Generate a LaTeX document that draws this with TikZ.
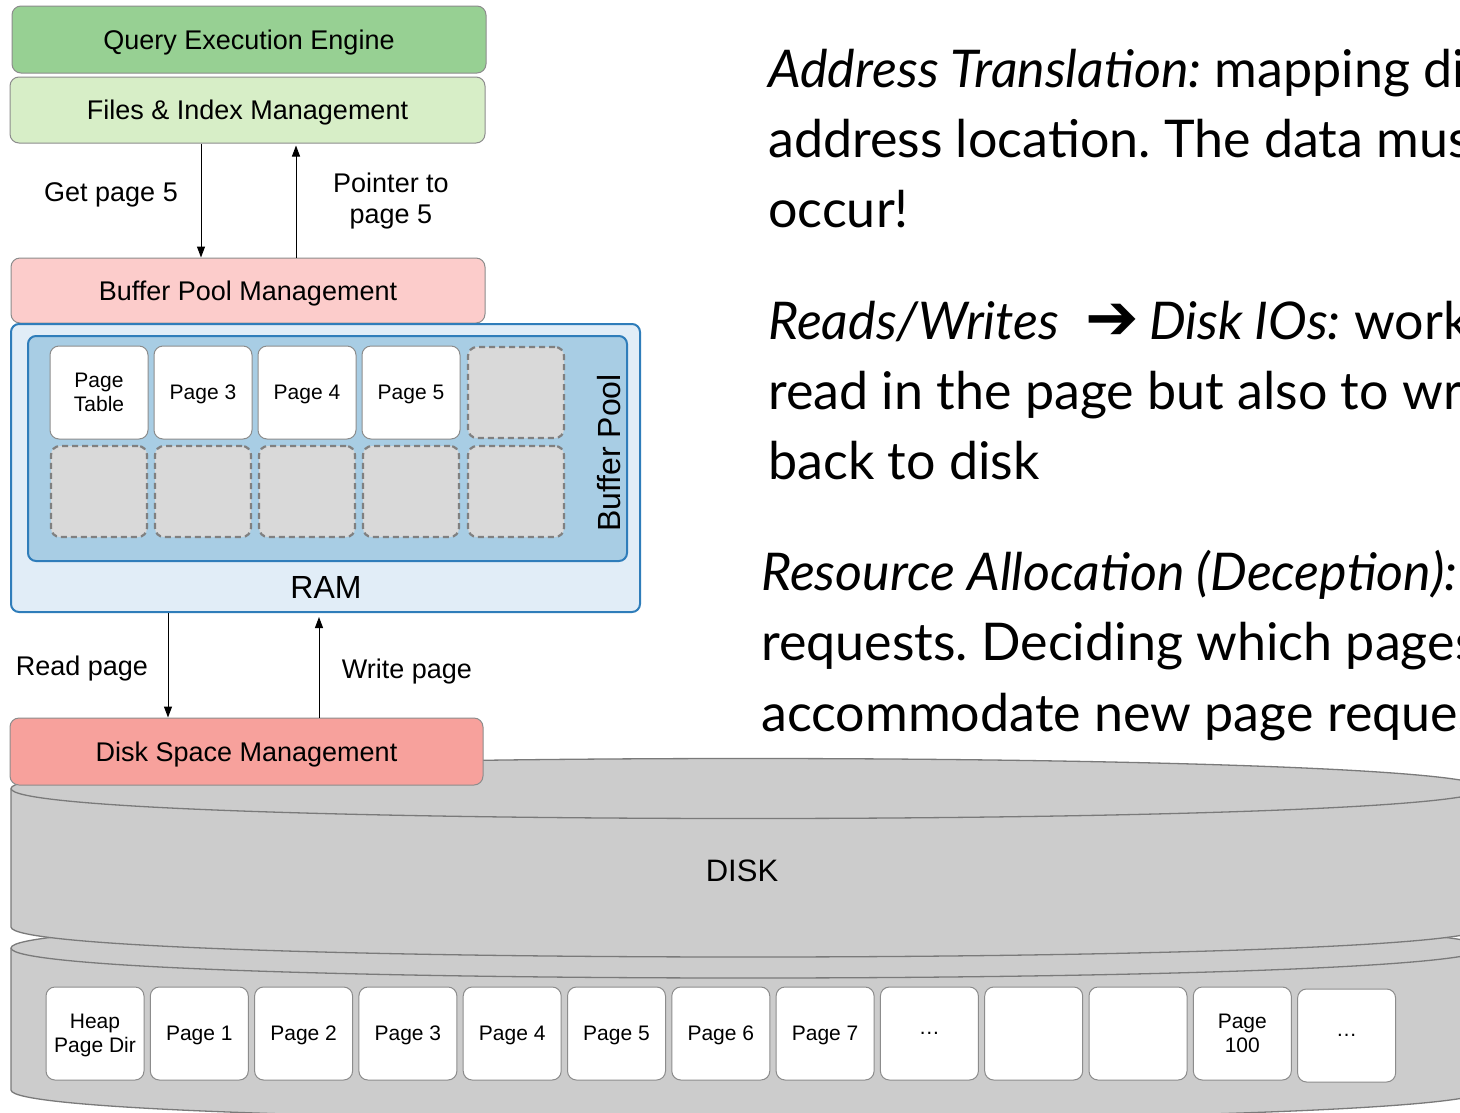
\documentclass[tikz,border=0pt]{standalone}
\usepackage{fontspec}
\setmainfont{Liberation Sans}
\newfontfamily\gill{Lato}
\newfontfamily\symfont{DejaVu Sans}
\usetikzlibrary{arrows.meta}

\definecolor{qeFill}{HTML}{97D093}
\definecolor{fiFill}{HTML}{D7EEC7}
\definecolor{bpFill}{HTML}{FCCCCB}
\definecolor{dsFill}{HTML}{F7A19C}
\definecolor{ramFill}{HTML}{E1EDF7}
\definecolor{ramLine}{HTML}{2F7DBA}
\definecolor{poolFill}{HTML}{A8CDE4}
\definecolor{slotFill}{HTML}{D9D9D9}
\definecolor{slotLine}{HTML}{808080}
\definecolor{boxLine}{HTML}{8C8C8C}
\definecolor{diskFill}{HTML}{CCCCCC}
\definecolor{diskLine}{HTML}{7A7A7A}

\newcommand\fsz[2]{\fontsize{#1}{#2}\selectfont}
\frenchspacing

\begin{document}
\begin{tikzpicture}[x=1pt, y=-1pt,
  layer/.style={draw=boxLine, line width=1pt, rounded corners=9pt, inner sep=0pt,
    text depth=0pt, font=\fsz{27}{32}},
  pg/.style={draw=boxLine, fill=white, line width=1pt, rounded corners=9pt,
    minimum width=98pt, minimum height=93pt, inner sep=0pt, align=center,
    text depth=0pt, font=\fsz{21}{24.5}},
  slot/.style={draw=slotLine, fill=slotFill, line width=2.2pt,
    dash pattern=on 6pt off 4pt, rounded corners=9pt,
    minimum width=96pt, minimum height=91pt, inner sep=0pt},
  lbl/.style={font=\fsz{27}{31}, align=center, inner sep=0pt},
  arr/.style={-{Triangle[length=11pt,width=8pt]}, line width=1pt},
  cyl/.style={fill=diskFill, draw=diskLine, line width=1.3pt},
  prose/.style={anchor=base west, inner sep=0pt, font=\gill\fsz{52}{60}}
]
\path[use as bounding box] (0,0) rectangle (1460,1112);
\clip (0,0) rectangle (1460,1112);

% ---------- storage stack ----------
\node[layer, fill=qeFill, minimum width=474pt, minimum height=67pt] (qe) at (249,39.5) {Query Execution Engine};
\node[layer, fill=fiFill, minimum width=475pt, minimum height=66pt] (fi) at (247.5,110) {Files \& Index Management};
\node[layer, fill=bpFill, minimum width=474pt, minimum height=65pt] (bp) at (248,290.5) {Buffer Pool Management};

% RAM and buffer pool frames
\node[draw=ramLine, fill=ramFill, line width=2pt, rounded corners=8pt,
      minimum width=629pt, minimum height=288pt, inner sep=0pt] (ram) at (325.5,468) {};
\node[draw=ramLine, fill=poolFill, line width=2pt, rounded corners=8pt,
      minimum width=599pt, minimum height=225pt, inner sep=0pt] (pool) at (327.5,448.5) {};
\node[lbl, font=\fsz{32}{36}, rotate=90] (poollbl) at (609,453) {Buffer Pool};
\node[lbl, font=\fsz{32}{36}] (ramlbl) at (326,587) {RAM};

\node[pg] (bt) at (99,392.5) {Page\\Table};
\node[pg] (b3) at (203,392.5) {Page 3};
\node[pg] (b4) at (307,392.5) {Page 4};
\node[pg] (b5) at (411,392.5) {Page 5};
\node[slot] (s1) at (516,392.5) {};
\foreach \i/\x in {2/99,3/203,4/307,5/411,6/516}
  \node[slot] (s\i) at (\x,491.5) {};

% ---------- disk ----------
% lower platter
\path[cyl] (11,948) .. controls (11,908) and (1485,908) .. (1485,948)
  -- (1485,1090) .. controls (1485,1130) and (11,1130) .. (11,1090) -- cycle;
\draw[diskLine, line width=1.3pt] (11,948) .. controls (11,988) and (1485,988) .. (1485,948);
% upper platter
\path[cyl] (11,788.5) .. controls (11,748.5) and (1485,748.5) .. (1485,788.5)
  -- (1485,927) .. controls (1485,967) and (11,967) .. (11,927) -- cycle;
\draw[diskLine, line width=1.3pt] (11,788.5) .. controls (11,828.5) and (1485,828.5) .. (1485,788.5);
\node[lbl, font=\fsz{31}{36}] (disklbl) at (742,871) {DISK};

\node[layer, fill=dsFill, minimum width=473pt, minimum height=67pt] (ds) at (246.5,751.5) {Disk Space Management};

\node[pg] (d0) at (95,1033.5) {Heap\\Page Dir};
\node[pg] (d1) at (199.3,1033.5) {Page 1};
\node[pg] (d2) at (303.6,1033.5) {Page 2};
\node[pg] (d3) at (407.9,1033.5) {Page 3};
\node[pg] (d4) at (512.2,1033.5) {Page 4};
\node[pg] (d5) at (616.5,1033.5) {Page 5};
\node[pg] (d6) at (720.8,1033.5) {Page 6};
\node[pg] (d7) at (825.1,1033.5) {Page 7};
\node[pg] (d8) at (929.4,1033.5) {\dots};
\node[pg] (d9) at (1033.7,1033.5) {};
\node[pg] (d10) at (1138,1033.5) {};
\node[pg] (d11) at (1242.3,1033.5) {Page\\100};
\node[pg] (d12) at (1346.6,1035.5) {\dots};

% ---------- requests between layers ----------
\coordinate (xget) at (201,0);
\coordinate (xptr) at (296,0);
\coordinate (xread) at (168,0);
\coordinate (xwrite) at (319,0);
\draw[arr] (fi.south -| xget) -- (bp.north -| xget);
\draw[arr, shorten >=2pt] (bp.north -| xptr) -- (fi.south -| xptr);
\draw[arr] (ram.south -| xread) -- (ds.north -| xread);
\draw[arr, shorten >=4pt] (ds.north -| xwrite) -- (ram.south -| xwrite);

\node[lbl] (lget) at (111,195) {Get page 5};
\node[lbl] (lptr) at (391,201) {Pointer to\\page 5};
\node[lbl] (lread) at (82,669) {Read page};
\node[lbl] (lwrite) at (407,672) {Write page};

% ---------- notes ----------
\node[prose] (n1) at (768,87) {\itshape Address Translation:\upshape{} mapping disk page};
\node[prose] (n2) at (768,157) {address location. The data must};
\node[prose] (n3) at (768,227) {occur!};
\node[prose] (n4) at (768,339) {\itshape Reads/Writes\hspace{26pt}{\symfont\fsz{64}{64}\bfseries ➔}\hspace{10pt}Disk IOs:\upshape{} work};
\node[prose] (n5) at (768,409) {read in the page but also to write};
\node[prose] (n6) at (768,479) {back to disk};
\node[prose] (n7) at (761,590) {\itshape Resource Allocation (Deception):};
\node[prose] (n8) at (761,660) {requests. Deciding which pages};
\node[prose] (n9) at (761,731) {accommodate new page requests};
\end{tikzpicture}
\end{document}
